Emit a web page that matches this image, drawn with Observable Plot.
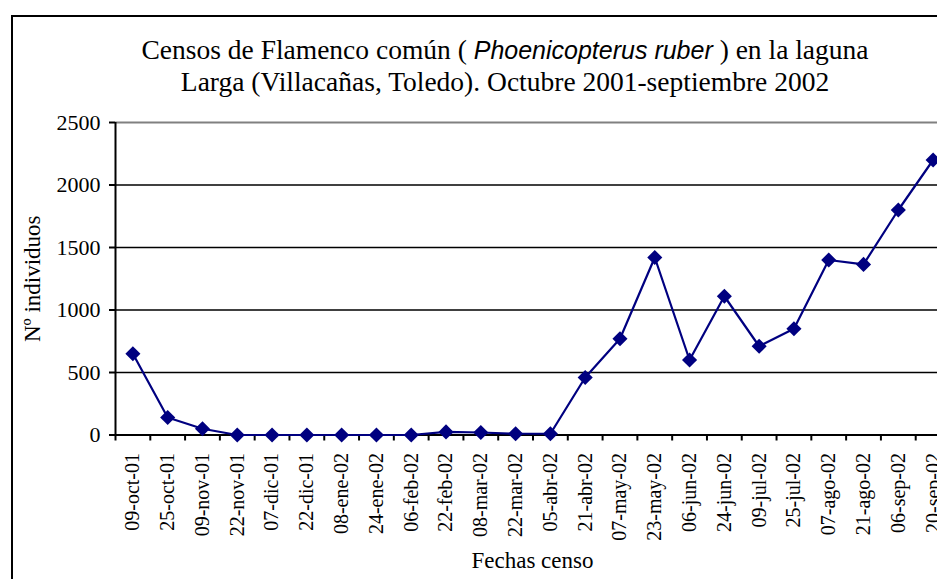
<!DOCTYPE html>
<html>
<head>
<meta charset="utf-8">
<script src="https://cdn.jsdelivr.net/npm/d3@7"></script>
<script src="https://cdn.jsdelivr.net/npm/@observablehq/plot@0.6"></script>
<style>
  html, body { margin: 0; padding: 0; width: 937px; height: 579px; overflow: hidden; background: #fff; }
  #frame { position: absolute; left: 11px; top: 15px; width: 1100px; height: 700px; border: 2px solid #000; box-sizing: border-box; }
  #title { position: absolute; left: 0; top: 34px; width: 1010px; text-align: center; font-family: "Liberation Serif", serif; font-size: 27.5px; line-height: 32px; color: #000; }
  #title i { font-family: "Liberation Sans", Arial, sans-serif; font-size: 25px; }
  #xlabel { position: absolute; left: 0; top: 548px; width: 1065px; text-align: center; font-family: "Liberation Serif", serif; font-size: 23px; color: #000; }
  #chart { position: absolute; left: 0; top: 0; width: 1000px; }
  #chart svg { max-width: none !important; }
</style>
</head>
<body>
<div id="frame"></div>
<div id="title">Censos de Flamenco común ( <i>Phoenicopterus ruber</i> ) en la laguna<br>Larga (Villacañas, Toledo). Octubre 2001-septiembre 2002</div>
<div id="chart"></div>
<div id="xlabel">Fechas censo</div>
<script>
const fechas = ["09-oct-01","25-oct-01","09-nov-01","22-nov-01","07-dic-01","22-dic-01","08-ene-02","24-ene-02","06-feb-02","22-feb-02","08-mar-02","22-mar-02","05-abr-02","21-abr-02","07-may-02","23-may-02","06-jun-02","24-jun-02","09-jul-02","25-jul-02","07-ago-02","21-ago-02","06-sep-02","20-sep-02"];
const individuos = [650,140,50,0,0,0,0,0,0,25,20,10,10,460,770,1420,600,1110,710,850,1400,1365,1800,2200];
const yTicks = [0,500,1000,1500,2000,2500];
const yLabel = "Nº individuos";

const data = fechas.map((f, i) => ({i, f, v: individuos[i]}));
const idx = d3.range(fechas.length);
const bounds = d3.range(fechas.length + 1).map(i => i - 0.5);
const xDomain = [-0.5, fechas.length - 0.5];

const W = 1000, H = 600;
const chart = Plot.plot({
  width: W, height: H,
  marginLeft: 115, marginRight: W - 950, marginTop: 122, marginBottom: H - 434.5,
  x: {type: "linear", domain: xDomain},
  y: {domain: [0, 2500]},
  style: {fontFamily: "Liberation Serif, serif", fontSize: "22px", color: "#000", background: "transparent", overflow: "visible", maxWidth: "none"},
  marks: [
    Plot.ruleY(yTicks.filter(t => t > 0 && t < 2500), {stroke: "#000", strokeWidth: 1.5}),
    Plot.ruleY([2500], {stroke: "#808080", strokeWidth: 2}),
    Plot.ruleX([xDomain[0]], {y1: 0, y2: 2500, stroke: "#000", strokeWidth: 2}),
    Plot.ruleY([0], {stroke: "#000", strokeWidth: 2}),
    Plot.axisY({ticks: yTicks, tickSize: 6, tickPadding: 9, label: null, tickFormat: d => String(d), strokeWidth: 2, fontSize: 22}),
    Plot.axisX({ticks: bounds, tickSize: 6, tickFormat: () => "", label: null, strokeWidth: 2}),
    Plot.axisX({ticks: idx, tickSize: 0, tickPadding: 18, tickRotate: -90, tickFormat: i => fechas[i], label: null, fontSize: 20}),
    Plot.line(data, {x: "i", y: "v", stroke: "#000080", strokeWidth: 2.2}),
    Plot.dot(data, {x: "i", y: "v", symbol: "diamond2", r: 6.8, fill: "#000080", stroke: "none"}),
    Plot.text([yLabel], {frameAnchor: "left", dx: -83, dy: 0, textAnchor: "middle", rotate: -90, fontSize: 23, fill: "#000"})
  ]
});
document.getElementById("chart").appendChild(chart);
</script>
</body>
</html>
